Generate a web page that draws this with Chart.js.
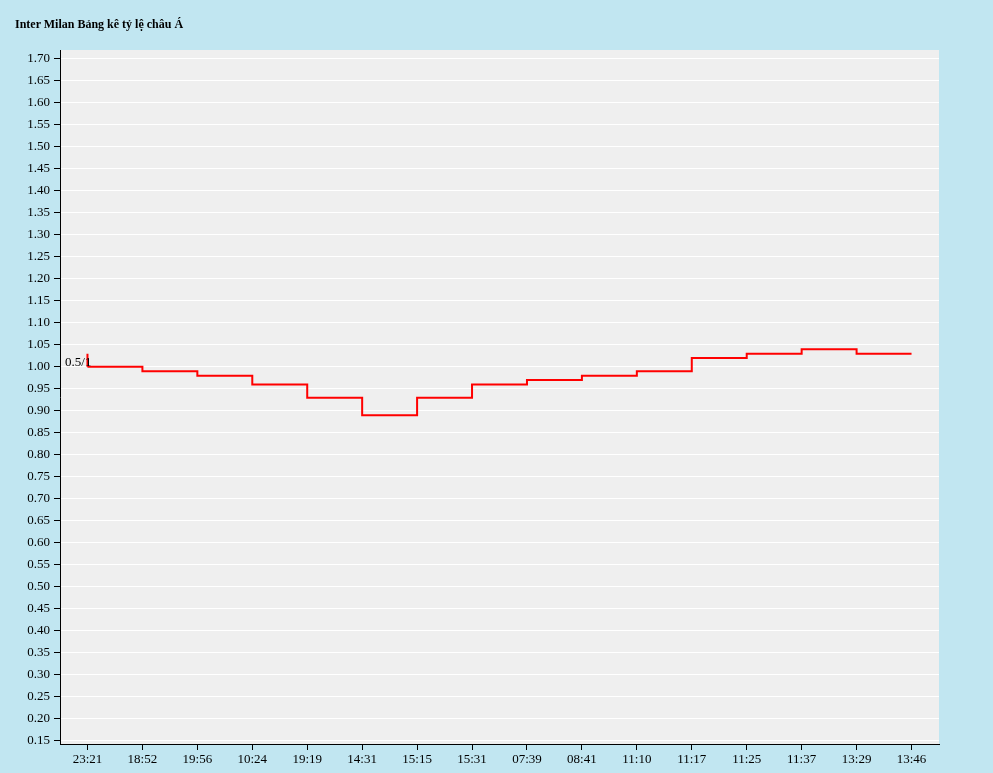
<!DOCTYPE html>
<html>
<head>
<meta charset="utf-8">
<script src="https://cdn.jsdelivr.net/npm/chart.js@4"></script>
<style>
  body { margin: 0; background: #c1e6f1; }
  #wrap { position: relative; width: 993px; height: 773px; }
  #title { position: absolute; left: 15px; top: 17px; font: bold 12px "Liberation Serif", serif; }
</style>
</head>
<body>
<div id="wrap">
  <div id="title">Inter Milan Bảng kê tỷ lệ châu Á</div>
  <canvas id="oddsChart" width="993" height="773"></canvas>
</div>
<script>
const times = ['23:21', '18:52', '19:56', '10:24', '19:19', '14:31', '15:15', '15:31', '07:39', '08:41', '11:10', '11:17', '11:25', '11:37', '13:29', '13:46'];
const odds = [1.00, 0.99, 0.98, 0.96, 0.93, 0.89, 0.93, 0.96, 0.97, 0.98, 0.99, 1.02, 1.03, 1.04, 1.03, 1.03];
const openOdds = [1.03, 1.00];
const handicapLabel = '0.5/1';

// plot area background + handicap label
const plotDecor = {
    id: 'plotDecor',
    beforeDraw(chart) {
        const { ctx, chartArea: a } = chart;
        ctx.save();
        ctx.fillStyle = '#efefef';
        ctx.fillRect(a.left, a.top, a.right - a.left, a.bottom - a.top);
        ctx.restore();
    },
    afterDraw(chart) {
        const { ctx } = chart;
        const x = chart.scales.x.getPixelForValue(0);
        const y = chart.scales.y.getPixelForValue(odds[0]);
        ctx.save();
        ctx.font = '13px "Liberation Serif", serif';
        ctx.fillStyle = '#000';
        ctx.textAlign = 'right';
        ctx.textBaseline = 'middle';
        ctx.fillText(handicapLabel, x + 4, y - 4);
        ctx.restore();
    }
};

new Chart(document.getElementById('oddsChart'), {
    type: 'line',
    data: {
        labels: times,
        datasets: [
            {
                data: odds,
                borderColor: '#ff0000',
                borderWidth: 2,
                stepped: true,
                pointRadius: 0,
                fill: false
            },
            {
                data: openOdds.map(v => ({ x: times[0], y: v })),
                borderColor: '#ff0000',
                borderWidth: 2,
                pointRadius: 0,
                fill: false
            }
        ]
    },
    options: {
        responsive: false,
        animation: false,
        layout: { padding: { top: 50, right: 54, left: 10, bottom: 0 } },
        plugins: { legend: { display: false }, tooltip: { enabled: false } },
        scales: {
            x: {
                offset: true,
                afterFit: axis => { axis.height = 29; },
                grid: { display: true, drawOnChartArea: false, offset: false, tickLength: 6, tickColor: '#000' },
                border: { color: '#000', width: 1 },
                ticks: { color: '#000', font: { family: 'Liberation Serif', size: 13 }, maxRotation: 0, autoSkip: false, padding: 2 }
            },
            y: {
                min: 0.143,
                max: 1.72,
                afterFit: axis => { axis.width = 50; },
                afterBuildTicks: axis => {
                    const t = [];
                    for (let i = 3; i <= 34; i++) t.push({ value: i * 0.05 });
                    axis.ticks = t;
                },
                grid: { color: '#ffffff', lineWidth: 1, tickColor: '#000', tickLength: 6 },
                border: { color: '#000', width: 1 },
                ticks: {
                    color: '#000',
                    font: { family: 'Liberation Serif', size: 13 },
                    padding: 4,
                    callback: v => v.toFixed(2)
                }
            }
        }
    },
    plugins: [plotDecor]
});
</script>
</body>
</html>
